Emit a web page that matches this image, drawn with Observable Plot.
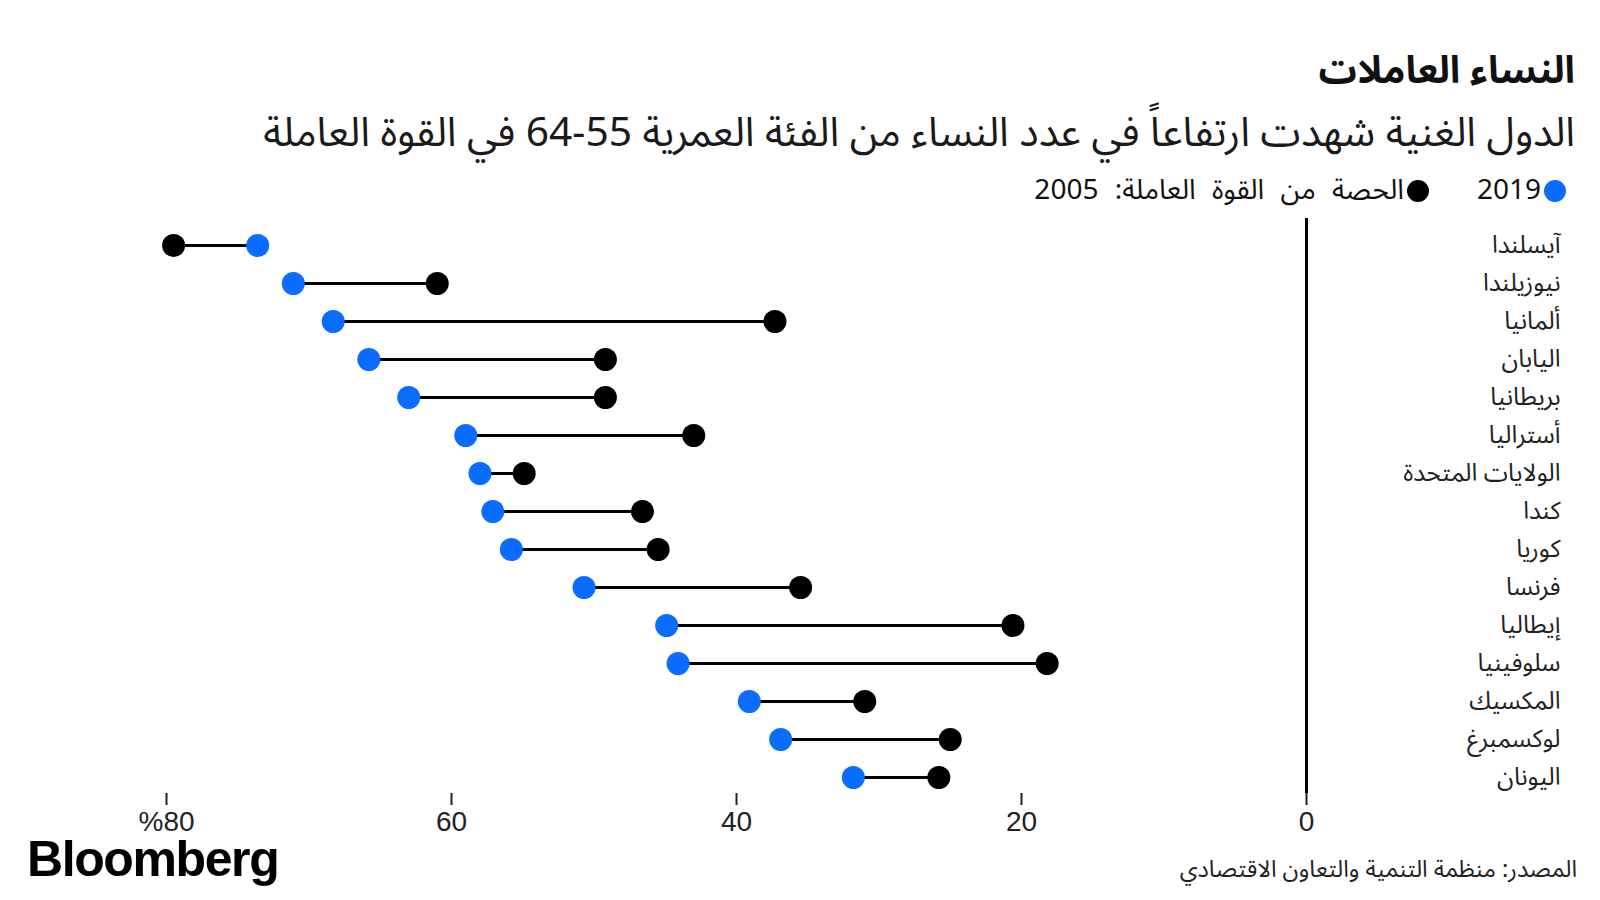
<!DOCTYPE html>
<html lang="ar">
<head>
<meta charset="utf-8">
<script src="https://cdn.jsdelivr.net/npm/d3@7"></script>
<script src="https://cdn.jsdelivr.net/npm/@observablehq/plot@0.6"></script>
<style>
  html, body { margin: 0; padding: 0; background: #fff; }
  body { width: 1600px; height: 900px; position: relative; overflow: hidden;
         font-family: "Noto Sans Arabic", "DejaVu Sans", "Noto Sans", sans-serif; color: #111; }
  .abs { position: absolute; white-space: nowrap; z-index: 2; line-height: 1; }
  #title { right: 25px; top: 52px; font-size: 38px; font-weight: bold; direction: rtl; }
  #subtitle { right: 25px; top: 113px; font-size: 40.7px; direction: rtl; color: #1a1a1a; }
  #legend { right: 34px; top: 177px; font-size: 28px; direction: rtl; display: flex; align-items: center; gap: 0; }
  .item { display: flex; align-items: center; }
  .dot { width: 22px; height: 22px; border-radius: 50%; display: inline-block; margin-left: 3px; }
  #chart { position: absolute; left: 0; top: 200px; z-index: 1; }
  #brand { left: 27px; top: 834px; font-family: "Liberation Sans", Arial, sans-serif; font-weight: bold; font-size: 50px; letter-spacing: -1.4px; color: #000; }
  #source { right: 23px; top: 858px; font-size: 23.5px; direction: rtl; color: #222; }
</style>
</head>
<body>
<div id="title" class="abs"></div>
<div id="subtitle" class="abs"></div>
<div id="legend" class="abs"></div>
<div id="chart"></div>
<div id="brand" class="abs">Bloomberg</div>
<div id="source" class="abs"></div>
<script>
const titleText = "النساء العاملات";
const subtitleText = "الدول الغنية شهدت ارتفاعاً في عدد النساء من الفئة العمرية 55-64 في القوة العاملة";
const sourceText = "المصدر: منظمة التنمية والتعاون الاقتصادي";
const legendLabels = ["2019", "الحصة من القوة العاملة: 2005"];
const colors = ["#0a6dff", "#000000"];

const countries = ["آيسلندا","نيوزيلندا","ألمانيا","اليابان","بريطانيا","أستراليا","الولايات المتحدة","كندا","كوريا","فرنسا","إيطاليا","سلوفينيا","المكسيك","لوكسمبرغ","اليونان"];
const v2019 = [73.6, 71.1, 68.3, 65.8, 63.0, 59.0, 58.0, 57.1, 55.8, 50.7, 44.9, 44.1, 39.1, 36.9, 31.8];
const v2005 = [79.5, 61.0, 37.3, 49.2, 49.2, 43.0, 54.9, 46.6, 45.5, 35.5, 20.6, 18.2, 31.0, 25.0, 25.8];
const xTicks = [0, 20, 40, 60, 80];

document.getElementById("title").textContent = titleText;
document.getElementById("subtitle").textContent = subtitleText;
document.getElementById("source").textContent = sourceText;

const legend = document.getElementById("legend");
legendLabels.forEach((lab, i) => {
  const it = document.createElement("div");
  it.className = "item";
  if (i > 0) { it.style.marginRight = "48px"; it.style.wordSpacing = "9px"; }
  const d = document.createElement("span");
  d.className = "dot";
  d.style.background = colors[i];
  const t = document.createElement("span");
  t.textContent = lab;
  it.appendChild(d);
  it.appendChild(t);
  legend.appendChild(it);
});

const data = countries.map((c, i) => ({country: c, a: v2005[i], b: v2019[i]}));

const chart = Plot.plot({
  width: 1600,
  height: 640,
  marginLeft: 166,
  marginRight: 294,
  marginTop: 18,
  marginBottom: 47,
  style: {fontFamily: "\"Noto Sans Arabic\", \"DejaVu Sans\", sans-serif", background: "transparent", color: "#222"},
  x: {domain: [0, 80], reverse: true},
  y: {type: "point", domain: countries, range: [43, 579], padding: 0},
  marks: [
    Plot.ruleX([0], {stroke: "#000", strokeWidth: 3}),
    Plot.axisX({ticks: xTicks, tickSize: 12, tickPadding: 6, strokeWidth: 2,
                tickFormat: d => d === 80 ? "%80" : String(d),
                fontSize: 28, fontFamily: "\"Liberation Sans Narrow\", \"Liberation Sans\", sans-serif",
                fill: "#222", label: null}),
    Plot.axisY({anchor: "right", tickSize: 0, tickPadding: 254, textAnchor: "end",
                fontSize: 24.5, fill: "#222", label: null}),
    Plot.ruleY(data, {y: "country", x1: "a", x2: "b", stroke: "#000", strokeWidth: 3}),
    Plot.dot(data, {x: "a", y: "country", r: 11.5, fill: colors[1]}),
    Plot.dot(data, {x: "b", y: "country", r: 11.5, fill: colors[0]})
  ]
});
document.getElementById("chart").appendChild(chart);
</script>
</body>
</html>
